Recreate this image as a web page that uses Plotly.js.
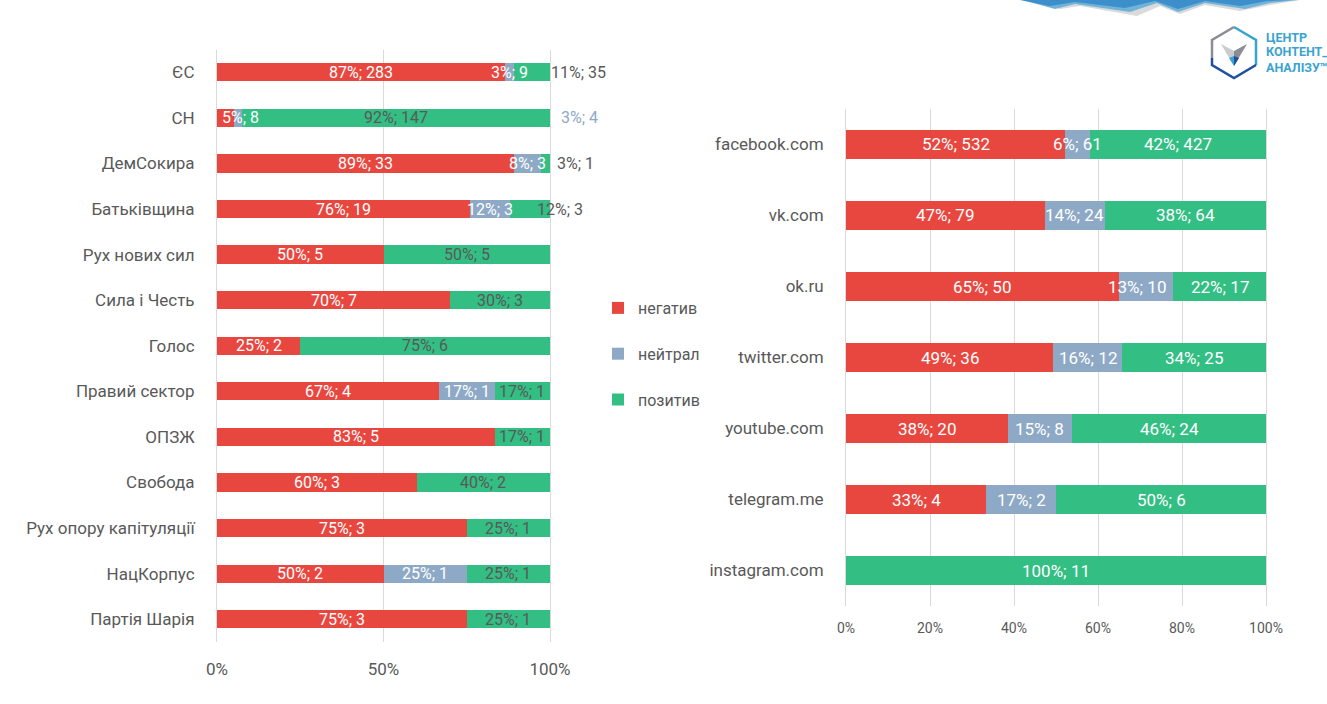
<!DOCTYPE html>
<html>
<head>
<meta charset="utf-8">
<script src="https://cdn.plot.ly/plotly-3.0.1.min.js"></script>
<style>html,body{margin:0;padding:0;background:#fff;}#chart{width:1327px;height:704px;}</style>
</head>
<body>
<div id="chart"></div>
<script>
// ---- data ----
const categoriesL = ['ЄС','СН','ДемСокира','Батьківщина','Рух нових сил','Сила і Честь','Голос','Правий сектор','ОПЗЖ','Свобода','Рух опору капітуляції','НацКорпус','Партія Шарія'];
const negL = [283, 8, 33, 19, 5, 7, 2, 4, 5, 3, 3, 2, 3];
const neuL = [9, 4, 3, 3, 0, 0, 0, 1, 0, 0, 0, 1, 0];
const posL = [35, 147, 1, 3, 5, 3, 6, 1, 1, 2, 1, 1, 1];

const categoriesR = ['facebook.com','vk.com','ok.ru','twitter.com','youtube.com','telegram.me','instagram.com'];
const negR = [532, 79, 50, 36, 20, 4, 0];
const neuR = [61, 24, 10, 12, 8, 2, 0];
const posR = [427, 64, 17, 25, 24, 6, 11];

const seriesNames = ['негатив', 'нейтрал', 'позитив'];
const tickValsL = [0, 0.5, 1];
const tickTextL = ['0%', '50%', '100%'];
const tickValsR = [0, 0.2, 0.4, 0.6, 0.8, 1];
const tickTextR = ['0%', '20%', '40%', '60%', '80%', '100%'];

// ---- styles ----
const W = 1327, H = 704;
const COLORS = ['#E8473F', '#8EA9C6', '#33BE84'];
const GRAY = '#595959';
const FONT = 'Roboto, "Liberation Sans", sans-serif';
// label style tweaks (pixel shifts / colours) for labels Excel placed off-centre
const labelTweaksL = {
  '0|2': {dx: 46, color: GRAY},
  '1|0': {dx: 15},
  '1|1': {dx: 342, color: '#8EA9C6'},
  '2|2': {dx: 30, color: GRAY},
  '3|2': {dx: 30, color: GRAY}
};
const labelTweaksR = {'2|1': {dx: -9}};

function px(x) { return x / W; }
function py(y) { return 1 - y / H; }

function shares(n, u, p) {
  return n.map((v, i) => {
    const t = n[i] + u[i] + p[i];
    return [n[i] / t, u[i] / t, p[i] / t];
  });
}

const shL = shares(negL, neuL, posL);
const shR = shares(negR, neuR, posR);
const countsL = [negL, neuL, posL];
const countsR = [negR, neuR, posR];

const traces = [];
for (let s = 0; s < 3; s++) {
  traces.push({
    type: 'bar', orientation: 'h', name: seriesNames[s],
    x: shL.map(r => r[s]), y: categoriesL,
    xaxis: 'x', yaxis: 'y', width: 0.40,
    marker: {color: COLORS[s], line: {width: 0}},
    legendgroup: 'g' + s, showlegend: true, hoverinfo: 'skip'
  });
}
for (let s = 0; s < 3; s++) {
  traces.push({
    type: 'bar', orientation: 'h', name: seriesNames[s],
    x: shR.map(r => r[s]), y: categoriesR,
    xaxis: 'x2', yaxis: 'y2', width: 0.42,
    marker: {color: COLORS[s], line: {width: 0}},
    legendgroup: 'g' + s, showlegend: false, hoverinfo: 'skip'
  });
}

const annotations = [];
function addLabels(sh, counts, cats, xr, yr, size, greenColor, tweaks) {
  cats.forEach((c, i) => {
    let cum = 0;
    for (let s = 0; s < 3; s++) {
      const v = counts[s][i];
      const f = sh[i][s];
      if (v > 0) {
        const tw = tweaks[i + '|' + s] || {};
        annotations.push({
          xref: xr, yref: yr, x: cum + f / 2, y: c,
          text: Math.round(f * 100) + '%; ' + v,
          showarrow: false, xanchor: 'center', yanchor: 'middle',
          xshift: tw.dx || 0,
          font: {family: FONT, size: size, color: tw.color || (s === 2 ? greenColor : '#FFFFFF')}
        });
      }
      cum += f;
    }
  });
}
addLabels(shL, countsL, categoriesL, 'x', 'y', 16, GRAY, labelTweaksL);
addLabels(shR, countsR, categoriesR, 'x2', 'y2', 17, '#FFFFFF', labelTweaksR);

// ---- logo (decorative) ----
function path(pts) {
  return 'M' + pts.map(p => px(p[0]).toFixed(5) + ',' + py(p[1]).toFixed(5)).join(' L') + ' Z';
}
function line(pts) {
  return 'M' + pts.map(p => px(p[0]).toFixed(5) + ',' + py(p[1]).toFixed(5)).join(' L');
}
const shapes = [
  {type: 'path', xref: 'paper', yref: 'paper', line: {width: 0}, fillcolor: '#DADADA',
   path: path([[1030,0],[1060,9],[1080,6],[1137,16],[1160,6],[1180,14],[1205,5],[1240,11],[1270,5],[1300,0]])},
  {type: 'path', xref: 'paper', yref: 'paper', line: {width: 0}, fillcolor: '#6FB3D9',
   path: path([[1022,0],[1055,9],[1075,4],[1130,12],[1157,3],[1178,12],[1205,3],[1245,9],[1270,3],[1298,0]])},
  {type: 'path', xref: 'paper', yref: 'paper', line: {width: 0}, fillcolor: '#3C8FCB',
   path: path([[1020,0],[1050,6],[1075,2],[1125,8],[1155,1],[1178,9],[1205,1],[1240,6],[1268,1],[1290,0]])},
  {type: 'path', xref: 'paper', yref: 'paper', line: {width: 2.5, color: '#8A8D93'},
   path: line([[1234,27],[1212,40],[1212,58]])},
  {type: 'path', xref: 'paper', yref: 'paper', line: {width: 2.5, color: '#3AA3CF'},
   path: line([[1234,27],[1256,40],[1256,65]])},
  {type: 'path', xref: 'paper', yref: 'paper', line: {width: 2.5, color: '#1E4FA0'},
   path: line([[1212,58],[1212,65],[1234,78],[1256,65]])},
  {type: 'path', xref: 'paper', yref: 'paper', line: {width: 0}, fillcolor: '#C9CBCE',
   path: path([[1221,44],[1234,51],[1234,66]])},
  {type: 'path', xref: 'paper', yref: 'paper', line: {width: 0}, fillcolor: '#8A8D93',
   path: path([[1247,44],[1234,51],[1234,66]])},
  {type: 'path', xref: 'paper', yref: 'paper', line: {width: 0}, fillcolor: '#3AA3CF',
   path: path([[1229,58],[1234,56],[1234,66]])},
  {type: 'path', xref: 'paper', yref: 'paper', line: {width: 0}, fillcolor: '#1E4FA0',
   path: path([[1234,56],[1239,58],[1234,66]])}
];
[['ЦЕНТР', 37], ['КОНТЕНТ_', 52], ['АНАЛІЗУ™', 67]].forEach(t => {
  annotations.push({xref: 'paper', yref: 'paper', x: px(1264), y: py(t[1]), text: '<b>' + t[0] + '</b>',
    showarrow: false, xanchor: 'left', yanchor: 'middle',
    font: {family: FONT, size: 12.5, color: '#3AA3CF'}});
});

const axisFont = (s) => ({family: FONT, size: s, color: GRAY});

const layout = {
  width: W, height: H,
  margin: {l: 0, r: 0, t: 0, b: 0, autoexpand: false},
  paper_bgcolor: '#FFFFFF', plot_bgcolor: 'rgba(0,0,0,0)',
  barmode: 'stack',
  showlegend: true,
  legend: {x: px(598), y: py(291), xanchor: 'left', yanchor: 'top',
    font: axisFont(16), tracegroupgap: 22, bgcolor: 'rgba(0,0,0,0)', traceorder: 'grouped'},
  xaxis: {domain: [px(217), px(550)], range: [0, 1], tickvals: tickValsL, ticktext: tickTextL,
    showgrid: true, gridcolor: '#D9D9D9', zeroline: false, showline: false, ticks: '',
    tickfont: axisFont(17), ticklabelstandoff: 15, anchor: 'y', fixedrange: true},
  yaxis: {domain: [py(642), py(49.5)], type: 'category', categoryorder: 'array', categoryarray: categoriesL,
    autorange: 'reversed', showgrid: false, zeroline: false, showline: true, mirror: true,
    linecolor: '#D9D9D9', linewidth: 1, ticks: '', tickfont: axisFont(17), ticklabelstandoff: 18,
    anchor: 'x', fixedrange: true},
  xaxis2: {domain: [px(846), px(1266)], range: [0, 1], tickvals: tickValsR, ticktext: tickTextR,
    showgrid: true, gridcolor: '#D9D9D9', zeroline: false, showline: false, ticks: '',
    tickfont: axisFont(14), ticklabelstandoff: 12, anchor: 'y2', fixedrange: true},
  yaxis2: {domain: [py(606), py(109)], type: 'category', categoryorder: 'array', categoryarray: categoriesR,
    autorange: 'reversed', showgrid: false, zeroline: false, showline: true, mirror: true,
    linecolor: '#D9D9D9', linewidth: 1, ticks: '', tickfont: axisFont(17), ticklabelstandoff: 18,
    anchor: 'x2', fixedrange: true},
  bargap: 0.6,
  annotations: annotations,
  shapes: shapes
};

Plotly.newPlot('chart', traces, layout, {displayModeBar: false, staticPlot: true});
</script>
</body>
</html>
